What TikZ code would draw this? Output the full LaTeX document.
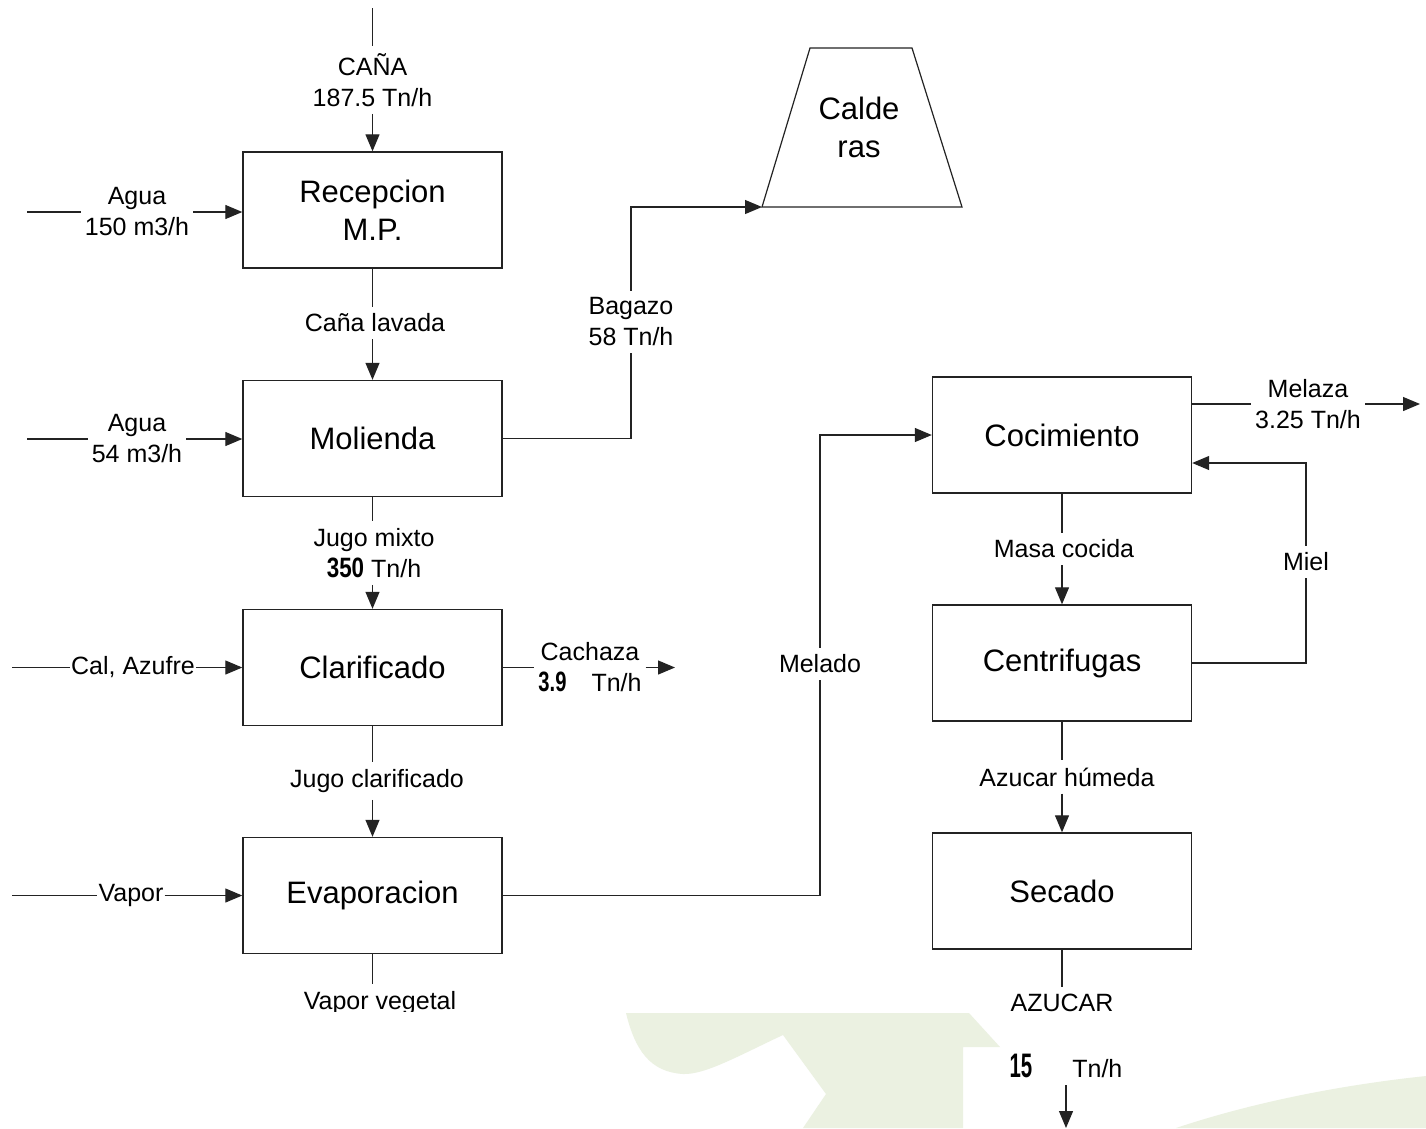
\documentclass[tikz,border=0pt]{standalone}
\usepackage{fontspec}
\setmainfont{Liberation Sans}
\usepackage{graphicx}
\usetikzlibrary{arrows.meta}
\definecolor{wmgreen}{RGB}{235,241,225}
\definecolor{ink}{RGB}{35,35,35}
\newcommand\bxfnt{\fontsize{31}{38}\selectfont}
\newcommand\lbfnt{\fontsize{25}{31}\selectfont}
% condensed bold figures for the pasted flow values
\newcommand\numtxt[3]{\scalebox{#1}[1]{\fontsize{#2}{#2}\selectfont\bfseries #3}}

\begin{document}
\begin{tikzpicture}[x=1pt,y=-1pt,
  box/.style={draw=ink,line width=1.4pt,minimum width=259pt,minimum height=116pt,
              inner sep=0pt,font=\bxfnt,align=center},
  lbl/.style={font=\lbfnt,align=center,inner xsep=4pt,inner ysep=7pt},
  flow/.style={draw=ink,line width=1.2pt},
  arr/.style={flow,-{Triangle[length=17pt,width=14pt]}}]

\useasboundingbox (0,0) rectangle (1426,1128);
\fill[white] (0,0) rectangle (1426,1128);

% process blocks
\node[box] (rec) at (372.5,210) {Recepcion\\M.P.};
\node[box] (mol) at (372.5,438.5) {Molienda};
\node[box] (cla) at (372.5,667.5) {Clarificado};
\node[box] (eva) at (372.5,895.5) {Evaporacion};
\node[box] (coc) at (1062,435) {Cocimiento};
\node[box] (cen) at (1062,663) {Centrifugas};
\node[box] (sec) at (1062,891) {Secado};

% boilers: trapezoid outline with its label
\coordinate (calbl) at (762,207);
\coordinate (caltl) at (810,48);
\coordinate (caltr) at (912,48);
\coordinate (calbr) at (962,207);
\draw[ink,line width=1.2pt] (calbl) -- (caltl) -- (caltr) -- (calbr) -- cycle;
\node[font=\bxfnt,align=center] (cal) at (859,127.5) {Calde\\ras};

% cane input
\coordinate (cin) at (372.5,8);
\node[lbl] (lcana) at (372.5,80) {CAÑA\\187.5 Tn/h};
\draw[flow] (cin) -- (lcana);
\draw[arr] (lcana) -- (rec);

% wash water
\coordinate (a1) at (27,212);
\node[lbl] (lagua1) at (137,212) {Agua\\150 m3/h};
\draw[flow] (a1) -- (lagua1);
\draw[arr] (lagua1) -- (lagua1 -| rec.west);

% washed cane
\node[lbl] (llav) at (375,323) {Caña lavada};
\draw[flow] (rec.south) -- (rec.south |- llav.north);
\draw[arr] (rec.south |- llav.south) -- (mol.north);

% imbibition water
\coordinate (a2) at (27,439);
\node[lbl] (lagua2) at (137,439) {Agua\\54 m3/h};
\draw[flow] (a2) -- (lagua2);
\draw[arr] (lagua2) -- (lagua2 -| mol.west);

% bagasse to boilers
\node[lbl] (lbag) at (631,322) {Bagazo\\58 Tn/h};
\draw[flow] (mol) -| (lbag);
\draw[arr] (lbag) |- (calbl);

% mixed juice
\node[lbl] (ljm) at (374,553) {Jugo mixto\\\numtxt{0.8}{28}{350} Tn/h};
\draw[flow] (mol.south) -- (mol.south |- ljm.north);
\draw[arr] (mol.south |- ljm.south) -- (cla.north);

% lime and sulphur
\coordinate (c1) at (12,667.5);
\node[lbl,inner xsep=1pt] (lcal) at (133,667.5) {Cal, Azufre};
\draw[flow] (c1) -- (lcal);
\draw[arr] (lcal) -- (cla);

% filter cake
\node[lbl] (lcach) at (590,667.5) {Cachaza\\\numtxt{0.72}{28}{3.9}\quad Tn/h};
\coordinate (cachout) at (675,667.5);
\draw[flow] (cla) -- (lcach);
\draw[arr] (lcach) -- (cachout);

% clarified juice
\node[lbl] (ljc) at (377,781) {Jugo clarificado};
\draw[flow] (cla.south) -- (cla.south |- ljc.north);
\draw[arr] (cla.south |- ljc.south) -- (eva.north);

% steam
\coordinate (v1) at (12,895.5);
\node[lbl,inner xsep=1pt] (lvap) at (131,895.5) {Vapor};
\draw[flow] (v1) -- (lvap);
\draw[arr] (lvap) -- (eva);

% syrup to the pans
\node[lbl] (lmel) at (820,664) {Melado};
\draw[flow] (eva) -| (lmel);
\draw[arr] (lmel) |- (coc);

% vapour from evaporators
\node[lbl] (lvv) at (380,1003) {Vapor vegetal};
\draw[flow] (eva.south) -- (eva.south |- lvv.north);

% massecuite
\node[lbl] (lmc) at (1064,549) {Masa cocida};
\draw[flow] (coc.south) -- (coc.south |- lmc.north);
\draw[arr] (coc.south |- lmc.south) -- (cen.north);

% molasses out
\node[lbl] (lmz) at (1308,404) {Melaza\\3.25 Tn/h};
\coordinate (mzout) at (1420,404);
\draw[flow] (coc.east |- lmz.west) -- (lmz.west);
\draw[arr] (lmz) -- (mzout);

% honey recycle
\node[lbl] (lmiel) at (1306,562) {Miel};
\draw[flow] (cen) -| (lmiel);
\draw[arr] (lmiel) |- ([yshift=-28pt]coc.east);

% wet sugar
\node[lbl] (lah) at (1067,777) {Azucar húmeda};
\draw[flow] (cen.south) -- (cen.south |- lah.north);
\draw[arr] (cen.south |- lah.south) -- (sec.north);

% sugar
\node[lbl] (laz) at (1062,1003) {AZUCAR};
\draw[flow] (sec) -- (laz);

% lower band with the faint green emblem
\fill[white] (0,1012) rectangle (1426,1128);
\fill[wmgreen] (626,1013) -- (969,1013) -- (1000,1047) -- (963,1047) -- (963,1128)
  -- (803,1128) -- (826,1094) -- (783,1035)
  .. controls (740,1055) and (705,1075) .. (683,1074)
  .. controls (650,1072) and (635,1050) .. (626,1013) -- cycle;
\fill[wmgreen] (1176,1128) .. controls (1260,1100) and (1350,1084) .. (1426,1076)
  -- (1426,1128) -- cycle;

% sugar output rate
\node[lbl] (l15) at (1066,1066) {\numtxt{0.6}{34}{15}\hspace{40pt}Tn/h};
\coordinate (azout) at (1066,1128);
\draw[arr] (l15) -- (azout);
\end{tikzpicture}
\end{document}
